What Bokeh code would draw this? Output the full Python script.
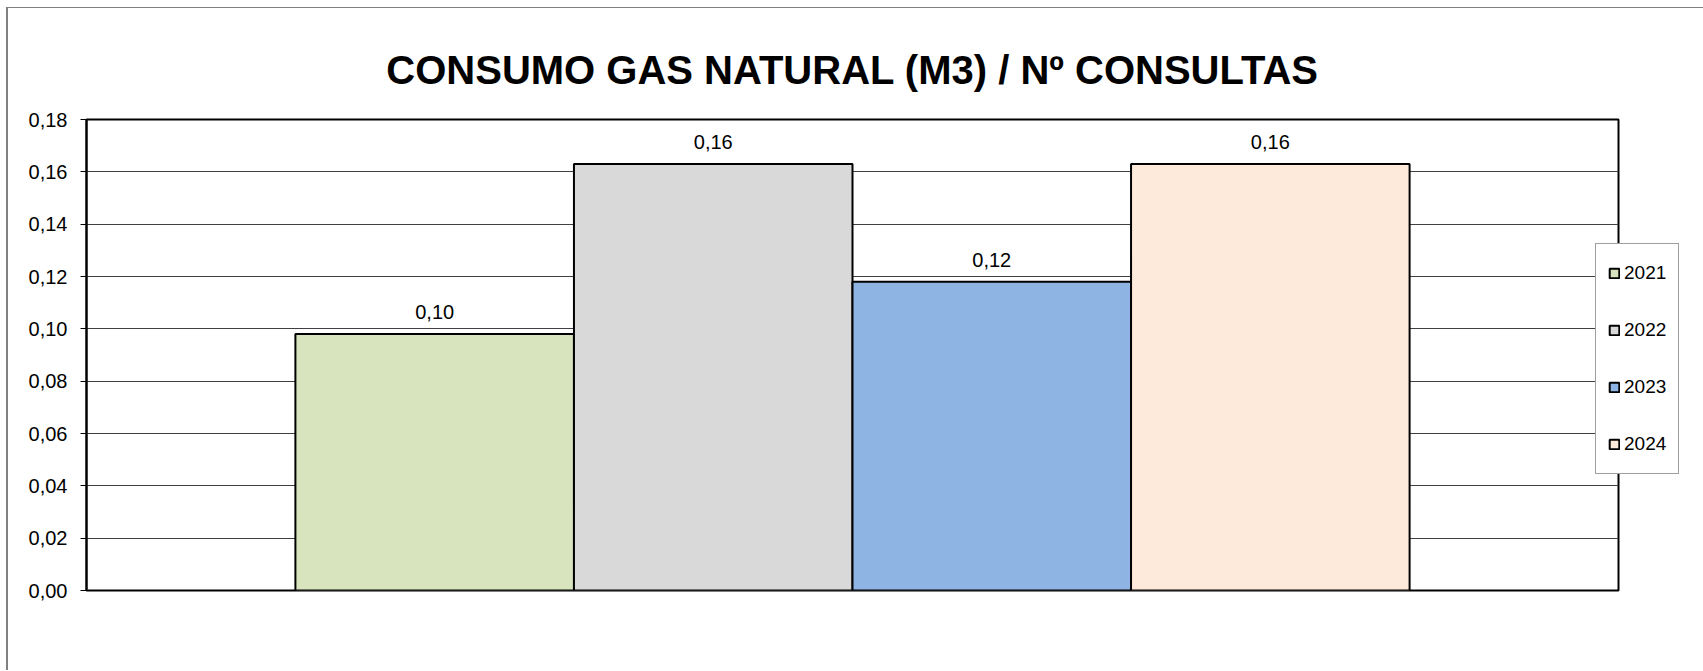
from bokeh.plotting import figure
from bokeh.models import (ColumnDataSource, FactorRange, Range1d, FixedTicker,
                          CustomJSTickFormatter)
from bokeh.embed import file_html
from bokeh.resources import INLINE
from bokeh.core.properties import value

# ---- data ----
years = ["2021", "2022", "2023", "2024"]
values = [0.098, 0.163, 0.118, 0.163]
labels = ["0,10", "0,16", "0,12", "0,16"]
colors = ["#D7E4BD", "#D9D9D9", "#8EB4E3", "#FDEADA"]
y_ticks = [0.00, 0.02, 0.04, 0.06, 0.08, 0.10, 0.12, 0.14, 0.16, 0.18]
title_text = "CONSUMO GAS NATURAL (M3) / Nº CONSULTAS"

FONT = "Liberation Sans"

src = ColumnDataSource(dict(year=years, value=values, label=labels, color=colors))

p = figure(
    x_range=FactorRange(*years, range_padding=0.375, factor_padding=0),
    y_range=Range1d(0, 0.18),
    frame_width=1532, frame_height=471,
    min_border_left=78, min_border_right=0, min_border_top=111, min_border_bottom=80,
    output_backend="svg", toolbar_location=None,
    title=title_text,
)
p.styles = {"margin-left": "6px", "margin-top": "7px",
            "border-left": "2px solid #808080", "border-top": "1px solid #808080"}

p.background_fill_color = "white"
p.border_fill_color = "white"
p.outline_line_color = "black"
p.outline_line_width = 2

p.title.text_font = FONT
p.title.text_font_size = "40px"
p.title.text_font_style = "bold"
p.title.text_color = "black"
p.title.align = "center"
p.title.standoff = 56

p.xaxis.visible = False
p.xgrid.grid_line_color = None

yax = p.yaxis[0]
yax.ticker = FixedTicker(ticks=y_ticks)
yax.formatter = CustomJSTickFormatter(code="return tick.toFixed(2).replace('.', ',');")
yax.major_tick_out = 6
yax.major_tick_in = 0
yax.minor_tick_line_color = None
yax.axis_line_width = 2
yax.axis_line_color = "black"
yax.major_tick_line_color = "black"
yax.major_label_standoff = 13
yax.major_label_text_font = FONT
yax.major_label_text_font_size = "20px"
yax.major_label_text_color = "black"

p.ygrid.ticker = FixedTicker(ticks=y_ticks)
p.ygrid.grid_line_color = "#404040"
p.ygrid.grid_line_width = 1

p.vbar(x="year", top="value", width=1.0, source=src, fill_color="color",
       line_color="black", line_width=2, legend_field="year")

p.text(x="year", y="value", text="label", source=src, y_offset=-22,
       text_align="center", text_baseline="alphabetic",
       text_font=value(FONT), text_font_size="20px", text_color="black")

lg = p.legend[0]
p.center.remove(lg)
p.add_layout(lg, "right")
lg.location = (-23, 116)
lg.border_line_color = "#404040"
lg.border_line_width = 1
lg.background_fill_color = "white"
lg.background_fill_alpha = 1
lg.label_text_font = FONT
lg.label_text_font_size = "19px"
lg.label_text_color = "black"
lg.glyph_width = 12
lg.glyph_height = 12
lg.label_height = 34
lg.label_standoff = 4
lg.padding = 12
lg.spacing = 23
lg.margin = 0

open("out.html", "w").write(file_html(p, INLINE))
